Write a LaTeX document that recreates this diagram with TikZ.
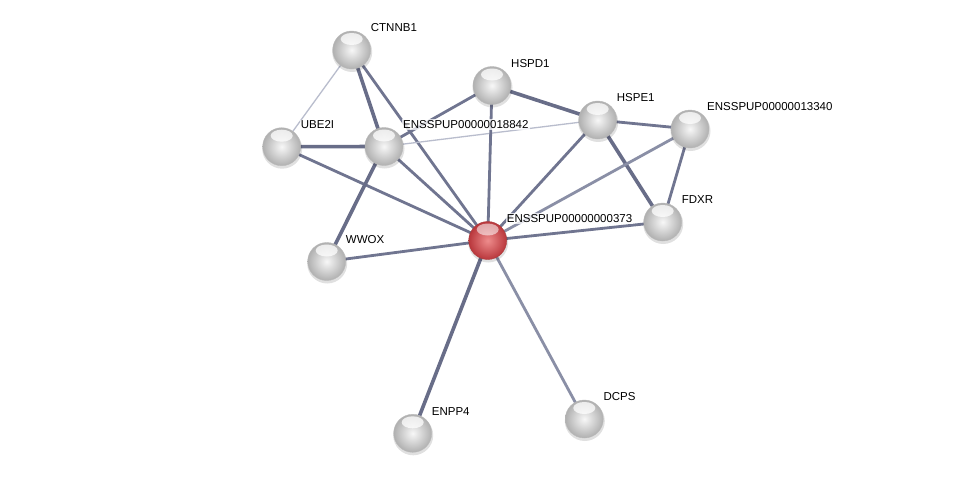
\documentclass[tikz,border=0pt]{standalone}
\usepackage{fontspec}
\setmainfont{Liberation Sans}
\begin{document}
\begin{tikzpicture}[x=1pt,y=-1pt,
  prot/.style={circle,minimum size=38pt,inner sep=0pt,inner color=gray!6,outer color=gray!62,draw=gray!55,line width=0.4pt,
    path picture={\fill[white,opacity=0.75] ([yshift=-8pt]path picture bounding box.north) ellipse (11pt and 6pt);}},
  protred/.style={circle,minimum size=38pt,inner sep=0pt,inner color={rgb,255:red,238;green,140;blue,140},outer color={rgb,255:red,185;green,55;blue,60},draw={rgb,255:red,170;green,60;blue,60},line width=0.4pt,
    path picture={\fill[white,opacity=0.55] ([yshift=-8pt]path picture bounding box.north) ellipse (11pt and 6pt);}},
  lbl/.style={anchor=west,font=\fontsize{11.5}{12}\selectfont,fill=white,fill opacity=0.75,text opacity=1,inner sep=1pt},
  edk/.style={line width=3.6pt,draw={rgb,255:red,104;green,109;blue,136}},
  edm/.style={line width=2.8pt,draw={rgb,255:red,112;green,117;blue,144}},
  edl/.style={line width=2.8pt,draw={rgb,255:red,138;green,143;blue,166}},
  edt/.style={line width=1.3pt,draw={rgb,255:red,185;green,189;blue,205}}]
\useasboundingbox (0,0) rectangle (976,479);
\fill[white] (0,0) rectangle (976,479);
% coordinates
\coordinate (cC) at (351.7,50);
\coordinate (cD) at (492,85.5);
\coordinate (cE) at (597.7,120);
\coordinate (cK) at (690,129);
\coordinate (cU) at (281.7,146.7);
\coordinate (cB) at (384,146.5);
\coordinate (cF) at (662.7,222);
\coordinate (cR) at (487.7,240.5);
\coordinate (cW) at (326.7,261.5);
\coordinate (cN) at (412.7,433.3);
\coordinate (cS) at (584.3,419);
% edges
\draw[edt] (cC) -- (cU);
\draw[edk] (cC) -- (cB);
\draw[edm] (cC) -- (cR);
\draw[edk] (cU) -- (cB);
\draw[edm] (cU) -- (cR);
\draw[edm] (cB) -- (cD);
\draw[edt] (cB) -- (cE);
\draw[edk] (cB) -- (cW);
\draw[edm] (cB) -- (cR);
\draw[edk] (cD) -- (cE);
\draw[edm] (cD) -- (cR);
\draw[edm] (cE) -- (cK);
\draw[edk] (cE) -- (cF);
\draw[edm] (cE) -- (cR);
\draw[edm] (cK) -- (cF);
\draw[edl] (cK) -- (cR);
\draw[edm] (cF) -- (cR);
\draw[edm] (cW) -- (cR);
\draw[edk] (cN) -- (cR);
\draw[edl] (cS) -- (cR);
% shadows
\foreach \c in {cC,cD,cE,cK,cU,cB,cF,cR,cW,cN,cS}{
  \fill[black,opacity=0.12] ([shift={(0.5,2)}]\c) circle (20);
}
% nodes
\node[prot] (CTNNB1) at (cC) {};
\node[prot] (HSPD1) at (cD) {};
\node[prot] (HSPE1) at (cE) {};
\node[prot] (P13340) at (cK) {};
\node[prot] (UBE2I) at (cU) {};
\node[prot] (P18842) at (cB) {};
\node[prot] (FDXR) at (cF) {};
\node[protred] (P373) at (cR) {};
\node[prot] (WWOX) at (cW) {};
\node[prot] (ENPP4) at (cN) {};
\node[prot] (DCPS) at (cS) {};
% labels
\node[lbl] (lC) at ([shift={(18,-22)}]cC) {CTNNB1};
\node[lbl] (lD) at ([shift={(18,-22)}]cD) {HSPD1};
\node[lbl] (lE) at ([shift={(18,-22)}]cE) {HSPE1};
\node[lbl] (lK) at ([shift={(16,-22)}]cK) {ENSSPUP00000013340};
\node[lbl] (lU) at ([shift={(18,-22)}]cU) {UBE2I};
\node[lbl] (lB) at ([shift={(18,-22)}]cB) {ENSSPUP00000018842};
\node[lbl] (lF) at ([shift={(18,-22)}]cF) {FDXR};
\node[lbl] (lR) at ([shift={(18,-22)}]cR) {ENSSPUP00000000373};
\node[lbl] (lW) at ([shift={(18,-22)}]cW) {WWOX};
\node[lbl] (lN) at ([shift={(18,-22)}]cN) {ENPP4};
\node[lbl] (lS) at ([shift={(18,-22)}]cS) {DCPS};
\end{tikzpicture}
\end{document}
